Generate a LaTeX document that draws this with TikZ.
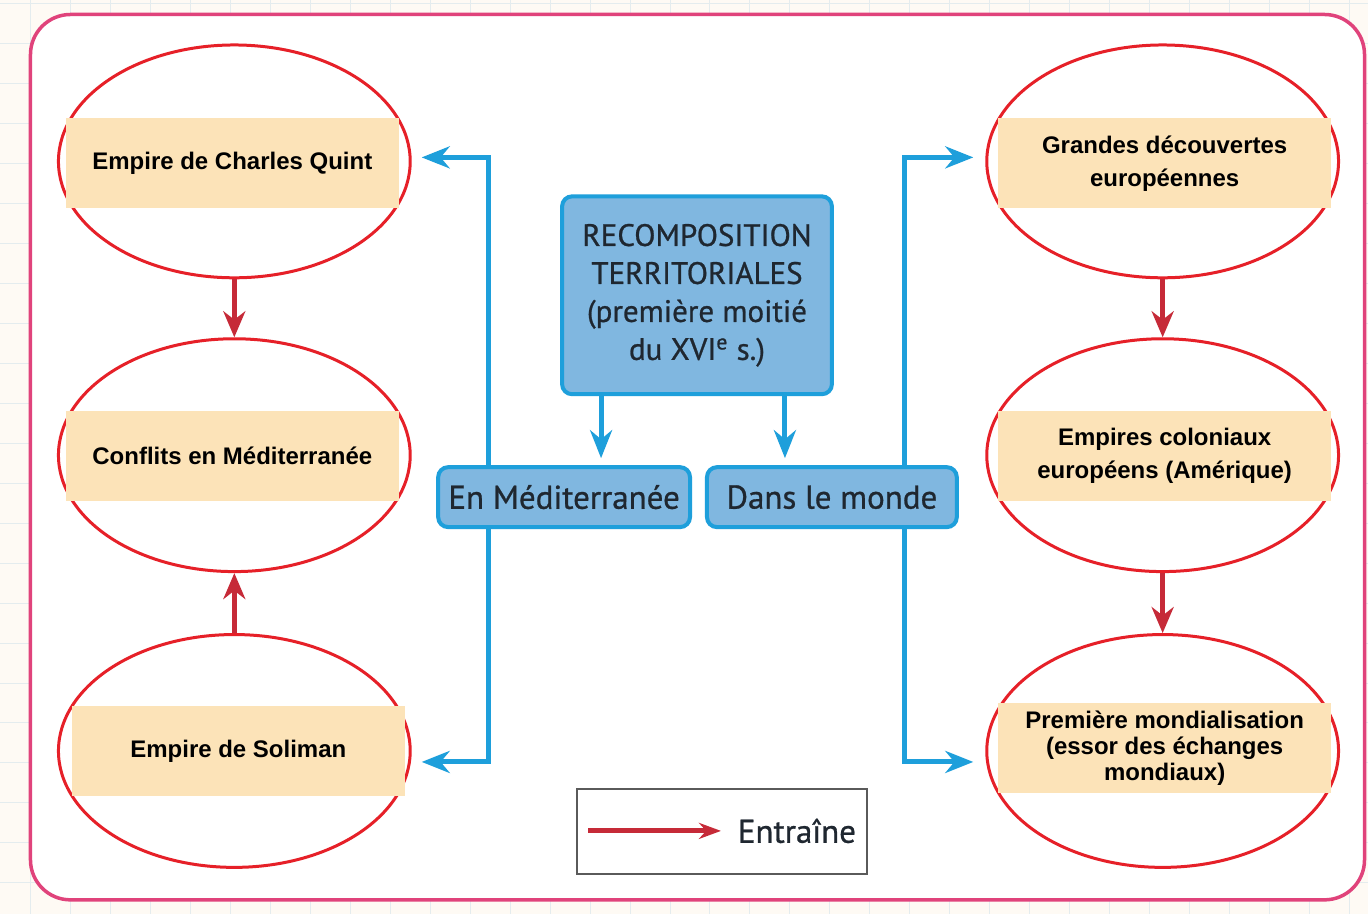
\documentclass[tikz,border=0pt]{standalone}
\usepackage{fontspec}
\setmainfont{Liberation Sans}
\newfontfamily\dinfont[FakeBold=0.8]{PT Sans}
\usetikzlibrary{shapes.geometric,arrows.meta}

\definecolor{bgcream}{HTML}{FEFAF4}
\definecolor{gridblue}{HTML}{E4ECEE}
\definecolor{framepink}{HTML}{E0437B}
\definecolor{ovalred}{HTML}{E62028}
\definecolor{arrowred}{HTML}{C62A38}
\definecolor{tanfill}{HTML}{FCE3B8}
\definecolor{boxblue}{HTML}{1E9FDB}
\definecolor{boxfill}{HTML}{80B7E0}
\definecolor{boxtext}{HTML}{1F2730}
\definecolor{legendgrey}{HTML}{5A5A5A}

\begin{document}
\begin{tikzpicture}[x=0.5pt,y=-0.5pt]

% node style definition
\tikzstyle{oval} = [
	draw=ovalred, line width=1.5pt, ellipse,
	minimum width=176pt, minimum height=116.5pt ];
\tikzstyle{tag} = [
	fill=tanfill, minimum width=166.5pt, minimum height=45pt,
	align=center, inner sep=2pt,
	font=\bfseries\fontsize{12}{16.5}\selectfont ];
\tikzstyle{bluebox} = [
	draw=boxblue, fill=boxfill, line width=2pt, rounded corners=5pt,
	text=boxtext, align=center, font=\dinfont\fontsize{15.5}{19}\selectfont ];
\tikzstyle{redarr} = [draw=arrowred, line width=2.5pt, -{Stealth[length=13pt,width=11pt]}];
\tikzstyle{bluearr} = [draw=boxblue, line width=2.5pt, -{Stealth[length=14pt,width=11pt]}];

% background and frame
\fill[bgcream] (0,0) rectangle (1368,914);
\foreach \x in {30,70,...,1366} \draw[gridblue,line width=0.5pt] (\x,0) -- (\x,914);
\foreach \y in {3,43,...,912} \draw[gridblue,line width=0.5pt] (0,\y) -- (1368,\y);
\useasboundingbox (0,0) rectangle (1368,914);
\draw[framepink,line width=1.75pt,fill=white,rounded corners=20pt] (30,14) rectangle (1365,900);

% left column
\node[oval] (e1) at (234,161) {};
\node[oval] (e2) at (234,455) {};
\node[oval] (e3) at (234,751) {};
\node[tag] (t1) at (232,163) {Empire de Charles Quint};
\node[tag] (t2) at (232,456) {Conflits en Méditerranée};
\node[tag] (t3) at (238,751) {Empire de Soliman};

% right column
\node[oval] (f1) at (1163,161) {};
\node[oval] (f2) at (1163,455) {};
\node[oval] (f3) at (1163,751) {};
\node[tag] (t4) at (1165,163) {Grandes découvertes\\européennes};
\node[tag] (t5) at (1165,456) {Empires coloniaux\\européens (Amérique)};
\node[tag,font=\bfseries\fontsize{12}{13}\selectfont] (t6) at (1165,748)
	{Première mondialisation\\(essor des échanges\\mondiaux)};

\draw[redarr] (e1.south) -- (e2.north);
\draw[redarr] (e3.north) -- (e2.south);
\draw[redarr] (f1.south) -- (f2.north);
\draw[redarr] (f2.south) -- (f3.north);

% centre
\node[bluebox,minimum width=135pt,minimum height=99pt] (rec) at (697,295)
	{RECOMPOSITION\\TERRITORIALES\\(première moitié\\du XVI\textsuperscript{e} s.)};

\coordinate (mL) at (488,497);
\coordinate (mR) at (905,497);
\draw[bluearr,shorten >=5pt] (mL) |- ([yshift=2pt]e1.east);
\draw[bluearr,shorten >=5pt] (mL) |- ([yshift=-5.5pt]e3.east);
\draw[bluearr,shorten >=6pt] (mR) |- ([yshift=2pt]f1.west);
\draw[bluearr,shorten >=6pt] (mR) |- ([yshift=-5.5pt]f3.west);

\node[bluebox,minimum width=126pt,minimum height=30pt,font=\dinfont\fontsize{16.5}{19}\selectfont] (med) at (564,497) {En Méditerranée};
\node[bluebox,minimum width=125pt,minimum height=30pt,font=\dinfont\fontsize{16.5}{19}\selectfont] (monde) at (832,497) {Dans le monde};

\draw[bluearr,shorten >=3.5pt] ([xshift=-48pt]rec.south) -- ([xshift=-48pt]rec.south |- med.north);
\draw[bluearr,shorten >=3.5pt] ([xshift=44pt]rec.south) -- ([xshift=44pt]rec.south |- monde.north);

% legend
\node[draw=legendgrey,line width=1pt,fill=white,minimum width=145pt,minimum height=42.5pt] (leg) at (722,832) {};
\coordinate (la) at (588,831);
\coordinate (lb) at (721,831);
\draw[draw=arrowred,line width=2.5pt,-{Stealth[length=11pt,width=8pt]}] (la) -- (lb);
\node[text=boxtext,font=\dinfont\fontsize{16.5}{19}\selectfont] (lt) at (797,831) {Entraîne};

\end{tikzpicture}
\end{document}
